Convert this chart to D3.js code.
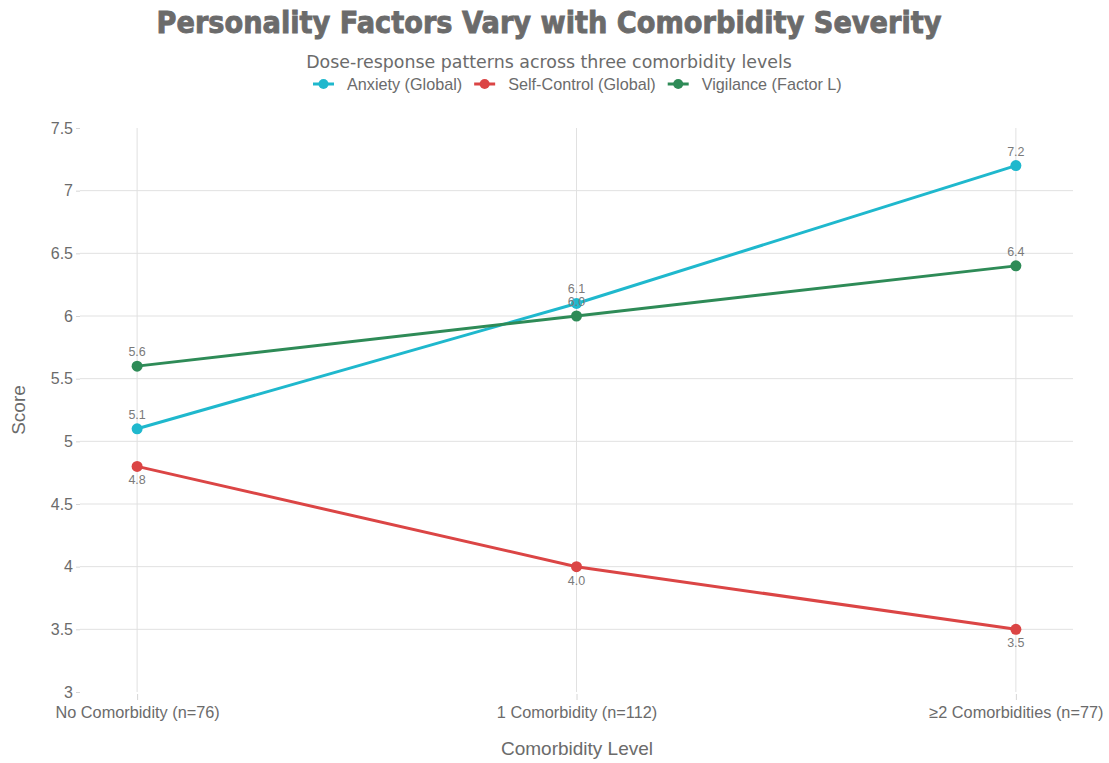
<!DOCTYPE html>
<html>
<head>
<meta charset="utf-8">
<script src="https://cdn.jsdelivr.net/npm/d3@7"></script>
<style>
  html, body { margin: 0; padding: 0; background: #fff; }
  svg { display: block; font-family: "Liberation Sans", Arial, sans-serif; }
</style>
</head>
<body>
<svg id="chart" width="1109" height="763"></svg>
<script>
// Comorbidity groups along the x axis
const categories = ["No Comorbidity (n=76)", "1 Comorbidity (n=112)", "≥2 Comorbidities (n=77)"];

// Mean scores per personality factor
const seriesNames = ["Anxiety (Global)", "Self-Control (Global)", "Vigilance (Factor L)"];
const anxiety = [5.1, 6.1, 7.2];
const selfControl = [4.8, 4.0, 3.5];
const vigilance = [5.6, 6.0, 6.4];
const seriesColors = ["#1FB8CD", "#DB4545", "#2E8B57"];
const labelSide = ["above", "below", "above"];

const yTicks = [3, 3.5, 4, 4.5, 5, 5.5, 6, 6.5, 7, 7.5];

const series = [anxiety, selfControl, vigilance].map((values, i) => ({
  name: seriesNames[i], values, color: seriesColors[i], side: labelSide[i]
}));

const svg = d3.select("#chart");
const plot = { left: 80, right: 1073, top: 128, bottom: 692 };

const x = d3.scaleLinear().domain([-0.13, categories.length - 1 + 0.13]).range([plot.left, plot.right]);
const y = d3.scaleLinear().domain([3, 7.5]).range([plot.bottom, plot.top]);

const textColor = "#6b6b6b";
const gridColor = "#e1e1e1";

// Horizontal grid lines (interior ticks only)
svg.append("g").selectAll("line")
  .data(yTicks.filter(t => t > 3 && t < 7.5))
  .join("line")
  .attr("x1", plot.left).attr("x2", plot.right)
  .attr("y1", d => y(d)).attr("y2", d => y(d))
  .attr("stroke", gridColor).attr("stroke-width", 1);

// Vertical grid lines at each category
svg.append("g").selectAll("line")
  .data(categories.map((c, i) => i))
  .join("line")
  .attr("x1", d => x(d)).attr("x2", d => x(d))
  .attr("y1", plot.top).attr("y2", plot.bottom)
  .attr("stroke", gridColor).attr("stroke-width", 1);

// Y axis
const yAxis = d3.axisLeft(y).tickValues(yTicks).tickSize(4).tickPadding(3)
  .tickFormat(d => d3.format("~g")(d));
const gy = svg.append("g").attr("transform", `translate(${plot.left},0)`).call(yAxis);
gy.select(".domain").remove();
gy.selectAll(".tick line").attr("stroke", "#d6d6d6");
gy.selectAll(".tick text").attr("fill", textColor).style("font-size", "16px");

// X axis
const xAxis = d3.axisBottom(x).tickValues(categories.map((c, i) => i)).tickSize(6).tickPadding(6)
  .tickFormat(i => categories[i]);
const gx = svg.append("g").attr("transform", `translate(0,${plot.bottom + 2})`).call(xAxis);
gx.select(".domain").remove();
gx.selectAll(".tick line").attr("stroke", "#d6d6d6");
gx.selectAll(".tick text").attr("fill", textColor).style("font-size", "16.3px");

// Lines and markers
const line = d3.line().x((d, i) => x(i)).y(d => y(d));
const gSeries = svg.append("g").selectAll("g").data(series).join("g");
gSeries.append("path")
  .attr("d", d => line(d.values))
  .attr("fill", "none")
  .attr("stroke", d => d.color)
  .attr("stroke-width", 3);
gSeries.selectAll("circle")
  .data(d => d.values.map((v, i) => ({ v, i, color: d.color })))
  .join("circle")
  .attr("cx", d => x(d.i)).attr("cy", d => y(d.v))
  .attr("r", 5.5).attr("fill", d => d.color);

// Value labels
gSeries.selectAll("text")
  .data(d => d.values.map((v, i) => ({ v, i, side: d.side })))
  .join("text")
  .attr("x", d => x(d.i))
  .attr("y", d => d.side === "above" ? y(d.v) - 10 : y(d.v) + 18)
  .attr("text-anchor", "middle")
  .attr("fill", "#7a7a7a")
  .style("font-size", "12.5px")
  .text(d => d3.format(".1f")(d.v));

// Title and subtitle
svg.append("text")
  .attr("x", 549).attr("y", 33)
  .attr("text-anchor", "middle")
  .attr("fill", "#6b6b6b")
  .attr("stroke", "#6b6b6b").attr("stroke-width", 0.9)
  .style("font-family", "'DejaVu Sans', sans-serif")
  .style("font-weight", "bold")
  .style("font-size", "30px")
  .attr("textLength", 785).attr("lengthAdjust", "spacingAndGlyphs")
  .text("Personality Factors Vary with Comorbidity Severity");

svg.append("text")
  .attr("x", 549).attr("y", 68)
  .attr("text-anchor", "middle")
  .attr("fill", textColor)
  .style("font-family", "'DejaVu Sans', sans-serif")
  .style("font-size", "17.4px")
  .text("Dose-response patterns across three comorbidity levels");

// Legend
const legend = svg.append("g").attr("transform", "translate(313,84)");
let lx = 0;
series.forEach(s => {
  const g = legend.append("g").attr("transform", `translate(${lx},0)`);
  g.append("line").attr("x1", 0).attr("x2", 21).attr("y1", 0).attr("y2", 0)
    .attr("stroke", s.color).attr("stroke-width", 3);
  g.append("circle").attr("cx", 10.5).attr("cy", 0).attr("r", 5).attr("fill", s.color);
  const t = g.append("text").attr("x", 34).attr("y", 5.5)
    .attr("fill", textColor).style("font-size", "16.2px").text(s.name);
  lx += 34 + t.node().getComputedTextLength() + 12;
});

// Axis titles
svg.append("text")
  .attr("x", 577).attr("y", 755)
  .attr("text-anchor", "middle")
  .attr("fill", textColor)
  .style("font-size", "19px")
  .text("Comorbidity Level");

svg.append("text")
  .attr("transform", `translate(25,${(plot.top + plot.bottom) / 2}) rotate(-90)`)
  .attr("text-anchor", "middle")
  .attr("fill", textColor)
  .style("font-size", "19px")
  .text("Score");
</script>
</body>
</html>
